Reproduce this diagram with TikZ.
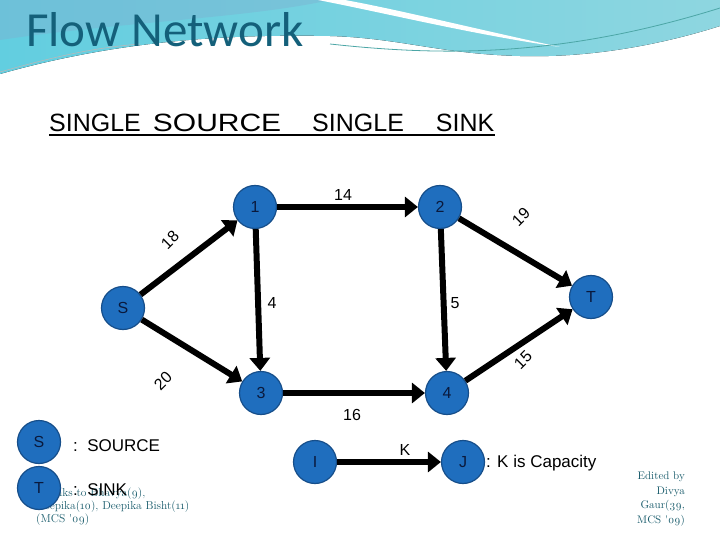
\documentclass[tikz,border=0pt]{standalone}
\usepackage{fontspec}
\setmainfont{Liberation Sans}
\newfontfamily\titlefont{Carlito}
\newfontfamily\notefont[Numbers=OldStyle]{Latin Modern Roman}
\usetikzlibrary{arrows.meta}
\definecolor{nodeblue}{RGB}{31,110,190}
\definecolor{nodeedge}{RGB}{22,78,138}
\definecolor{nodetext}{RGB}{10,25,60}
\definecolor{titleteal}{RGB}{20,96,122}
\definecolor{noteteal}{RGB}{26,92,108}
\definecolor{bgcyan}{RGB}{98,206,224}
\definecolor{bglight}{RGB}{142,214,224}
\definecolor{bgsteel}{RGB}{124,178,210}

\begin{document}
\begin{tikzpicture}
  [x=1pt,y=-1pt,
   vert/.style={circle,fill=nodeblue,draw=nodeedge,line width=1.2pt,minimum size=43pt,inner sep=0pt,
     text=nodetext,font=\fontsize{16}{16}\selectfont},
   capnum/.style={inner sep=0pt,font=\fontsize{16}{16}\selectfont},
   legend/.style={inner sep=0pt,anchor=west,font=\fontsize{17}{17}\selectfont},
   flow/.style={line width=6pt,-{Triangle[length=13pt,width=20pt]}}]
  \useasboundingbox (0,0) rectangle (720,540);

  % slide background
  \fill[left color=bgcyan,right color=bglight] (0,0) -- (720,0) -- (720,26)
    .. controls (660,45) and (590,58) .. (520,56)
    .. controls (440,54) and (400,38) .. (330,36)
    .. controls (230,34) and (120,40) .. (0,74) -- cycle;
  \fill[bgsteel,opacity=.45] (0,0) -- (330,0) .. controls (250,18) and (120,22) .. (0,40) -- cycle;
  \fill[white] (318,0) .. controls (390,14) and (470,34) .. (560,47)
    .. controls (480,30) and (400,10) .. (345,0) -- cycle;
  \draw[gray!55,line width=.6pt] (0,72) .. controls (50,58) and (90,48) .. (140,44);
  \draw[teal!70,line width=.8pt] (330,44) .. controls (440,56) and (560,58) .. (720,8);

  % headings
  \node[anchor=base west,inner sep=0pt,text=titleteal,font=\titlefont\fontsize{49}{49}\selectfont]
    (title) at (26,47) {Flow Network};
  \node[anchor=base west,inner sep=0pt,font=\fontsize{25}{25}\selectfont] (sub) at (49,132)
    {SINGLE\hspace{12pt}\scalebox{1.2}[1]{SOURCE}\hspace{31pt}SINGLE\hspace{32pt}SINK};
  \draw[line width=2pt] ([yshift=-3pt]sub.base west) -- ([yshift=-3pt]sub.base east);

  % network
  \node[vert] (s) at (123,308) {S};
  \node[vert] (n1) at (255,207) {1};
  \node[vert] (n2) at (440,207) {2};
  \node[vert] (n3) at (261,393) {3};
  \node[vert] (n4) at (447,393) {4};
  \node[vert] (t) at (591,297) {T};
  \foreach \from/\to in {s/n1,s/n3,n1/n2,n1/n3,n2/n4,n3/n4,n2/t,n4/t}
    \draw[flow] (\from) -- (\to);

  % capacities
  \node[capnum] (c14) at (343,195) {14};
  \node[capnum,rotate=45] (c18) at (170,240) {18};
  \node[capnum,rotate=45] (c19) at (521,217) {19};
  \node[capnum] (c4) at (272,303) {4};
  \node[capnum] (c5) at (455,303) {5};
  \node[capnum,rotate=45] (c20) at (163,381) {20};
  \node[capnum,rotate=45] (c15) at (523,360) {15};
  \node[capnum] (c16) at (352,415) {16};

  % notes
  \node[anchor=north west,inner sep=0pt,align=left,text=noteteal,
    font=\notefont\fontsize{11.5}{13}\selectfont] (thanks) at (36,488)
    {Thanks to Bhavya(9),\\Deepika(10), Deepika Bisht(11)\\(MCS '09)};
  \node[anchor=north east,inner sep=0pt,align=right,text=noteteal,
    font=\notefont\fontsize{11}{14.5}\selectfont] (editor) at (685,472)
    {Edited by\\Divya\\Gaur(39,\\MCS '09)};

  % legend
  \node[vert] (ls) at (39,442) {S};
  \node[vert] (lt) at (39,488) {T};
  \node[legend] (src) at (73,446) {:\ \ SOURCE};
  \node[legend] (snk) at (73,490) {:\ \ SINK};
  \node[vert] (li) at (315,462) {I};
  \node[vert] (lj) at (463,462) {J};
  \draw[flow] (li) -- (lj);
  \node[capnum] (ck) at (405,450) {K};
  \node[legend] (capk) at (486,463) {: K is Capacity};
\end{tikzpicture}
\end{document}
